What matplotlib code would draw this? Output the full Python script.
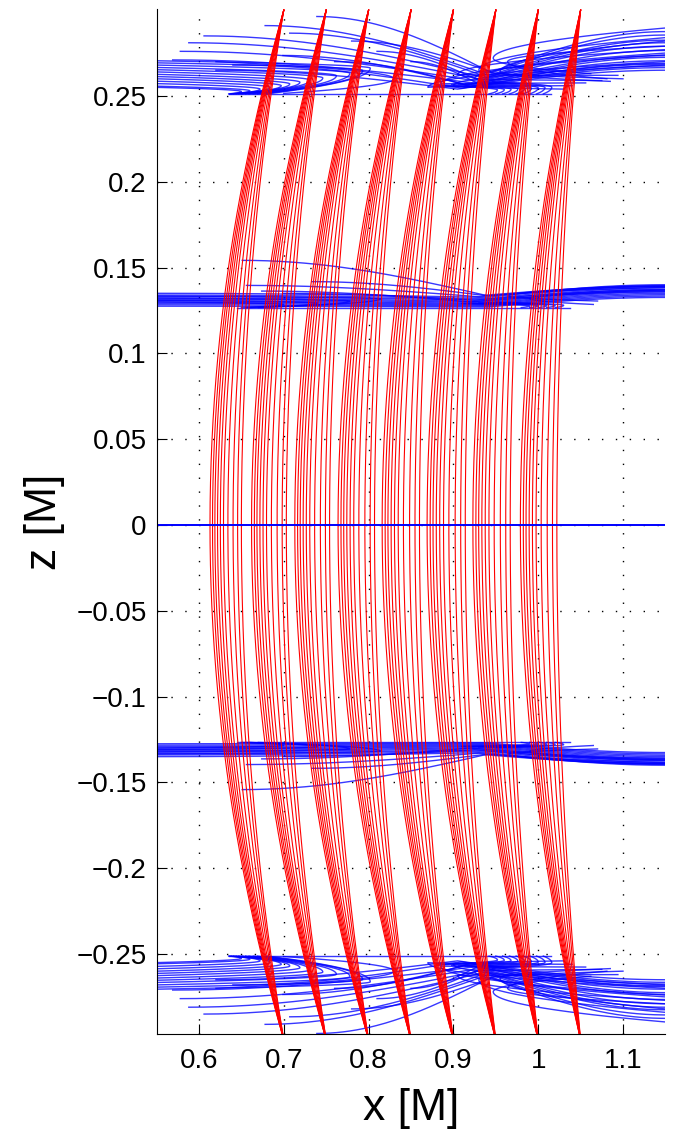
import numpy as np
import matplotlib
matplotlib.use('Agg')
from matplotlib import pyplot as plt

plt.rcParams['font.family'] = ['Liberation Sans', 'DejaVu Sans']

# red bundles: end point x at z=+-0.3, depth range of the bulge at z=0
bundle_end = [0.70, 0.75, 0.80, 0.85, 0.90, 0.95, 1.00, 1.05]
depth_min = [0.050, 0.047, 0.046, 0.043, 0.040, 0.036, 0.033, 0.028]
depth_max = [0.087, 0.088, 0.087, 0.086, 0.084, 0.081, 0.077, 0.071]
line_frac = [0.0, 0.08, 0.155, 0.24, 0.33, 0.43, 0.57, 0.735, 0.88, 1.0]
z_end = 0.3

# blue, outer group (upper copy, mirrored below)
outer_base = [(0.635, 0.2512), (1.015, 0.2512)]
# hooks: tip x, tip z, upper end x, upper end z, lower end x, lower end z
outer_hooks_left = [
    (0.650, 0.2526, 0.55, 0.2550, 0.635, 0.2512),
    (0.660, 0.2530, 0.55, 0.2557, 0.636, 0.2512),
    (0.672, 0.2540, 0.55, 0.2572, 0.638, 0.2512),
    (0.684, 0.2550, 0.55, 0.2586, 0.641, 0.2512),
    (0.697, 0.2560, 0.55, 0.2600, 0.644, 0.2512),
    (0.707, 0.2570, 0.55, 0.2613, 0.647, 0.2512),
    (0.719, 0.2580, 0.55, 0.2626, 0.651, 0.2512),
    (0.731, 0.2592, 0.55, 0.2640, 0.655, 0.2512),
    (0.746, 0.2605, 0.55, 0.2653, 0.659, 0.2512),
    (0.762, 0.2618, 0.55, 0.2666, 0.664, 0.2512),
    (0.778, 0.2632, 0.55, 0.2680, 0.669, 0.2512),
    (0.793, 0.2648, 0.55, 0.2693, 0.674, 0.2512),
    (0.802, 0.2662, 0.55, 0.2705, 0.680, 0.2512),
    (0.830, 0.2600, 0.62, 0.2700, 0.700, 0.2515),
]
outer_hooks_right = [
    (0.947, 0.2720, 1.15, 0.2896, 1.062, 0.2630),
    (0.964, 0.2700, 1.15, 0.2790, 1.081, 0.2600),
    (0.905, 0.2625, 1.15, 0.2770, 1.094, 0.2620),
    (0.925, 0.2600, 1.15, 0.2750, 1.075, 0.2590),
    (0.885, 0.2570, 1.15, 0.2740, 1.056, 0.2576),
    (0.870, 0.2550, 1.15, 0.2700, 1.040, 0.2560),
    (0.900, 0.2560, 1.15, 0.2680, 1.030, 0.2540),
    (0.930, 0.2650, 1.15, 0.2840, 1.100, 0.2600),
    (0.955, 0.2640, 1.15, 0.2820, 1.085, 0.2585),
]
outer_small_tips = [0.952, 0.960, 0.968, 0.976, 0.984, 0.992, 1.000, 1.008, 1.016]
outer_small_zc = [0.2535, 0.2537, 0.2539, 0.2541, 0.2543, 0.2545, 0.2547, 0.2549, 0.2551]
outer_small_zu = [0.2560, 0.2563, 0.2566, 0.2569, 0.2572, 0.2575, 0.2578, 0.2581, 0.2584]
# through lines: start, crossing point, right end
outer_through = [
    (0.569, 0.2710, 0.925, 0.2575, 1.15, 0.2705),
    (0.578, 0.2760, 0.930, 0.2585, 1.15, 0.2735),
    (0.588, 0.2810, 0.935, 0.2595, 1.15, 0.2765),
    (0.606, 0.2850, 0.938, 0.2605, 1.15, 0.2790),
    (0.678, 0.2910, 0.942, 0.2620, 1.15, 0.2825),
    (0.739, 0.2963, 0.945, 0.2635, 1.15, 0.2855),
    (0.699, 0.2736, 0.915, 0.2565, 1.15, 0.2685),
    (0.707, 0.2866, 0.940, 0.2610, 1.15, 0.2810),
    (0.810, 0.2760, 0.935, 0.2580, 1.15, 0.2725),
    (0.760, 0.2700, 0.920, 0.2555, 1.15, 0.2665),
    (0.640, 0.2680, 0.910, 0.2545, 1.15, 0.2675),
    (0.620, 0.2650, 0.905, 0.2540, 1.15, 0.2650),
    (0.780, 0.2820, 0.945, 0.2640, 1.15, 0.2875),
    (0.850, 0.2700, 0.930, 0.2570, 1.15, 0.2690),
]

# blue, middle group
mid_base = [(0.645, 0.1267), (1.037, 0.1267)]
mid_band_left = [0.1275, 0.1283, 0.1291, 0.1299, 0.1307, 0.1315, 0.1323, 0.1331, 0.1340, 0.1350]
mid_band_cross = [0.1270, 0.1275, 0.1280, 0.1285, 0.1290, 0.1296, 0.1302, 0.1310, 0.1318, 0.1326]
mid_band_right = [0.1326, 0.1334, 0.1342, 0.1350, 0.1358, 0.1366, 0.1374, 0.1382, 0.1391, 0.1400]
mid_cross_x = 0.94
mid_through = [
    (0.651, 0.1542, 0.941, 0.1335, 1.15, 0.1395),
    (0.656, 0.1396, 0.930, 0.1330, 1.15, 0.1388),
    (0.733, 0.1418, 0.935, 0.1338, 1.15, 0.1392),
    (0.674, 0.1363, 0.920, 0.1300, 1.15, 0.1360),
    (0.700, 0.1350, 0.925, 0.1310, 1.15, 0.1370),
]
mid_hooks_left = [
    (0.700, 0.1285, 0.55, 0.1300, 0.650, 0.1267),
    (0.740, 0.1292, 0.55, 0.1310, 0.655, 0.1267),
    (0.778, 0.1305, 0.55, 0.1322, 0.660, 0.1267),
    (0.814, 0.1318, 0.55, 0.1335, 0.670, 0.1267),
]
mid_hooks_right = [
    (0.965, 0.1335, 1.15, 0.1385, 1.070, 0.1305),
    (0.990, 0.1320, 1.15, 0.1370, 1.065, 0.1285),
]
mid_small_tips = [0.990, 1.000, 1.010, 1.020, 1.030]
mid_small_zc = [0.1276, 0.1277, 0.1278, 0.1279, 0.1280]
mid_small_zu = [0.1290, 0.1292, 0.1294, 0.1296, 0.1298]

xticks = [0.6, 0.7, 0.8, 0.9, 1.0, 1.1]
xticklabels = ['0.6', '0.7', '0.8', '0.9', '1', '1.1']
yticks = [-0.25, -0.2, -0.15, -0.1, -0.05, 0, 0.05, 0.1, 0.15, 0.2, 0.25]
yticklabels = ['\u22120.25', '\u22120.2', '\u22120.15', '\u22120.1', '\u22120.05', '0',
               '0.05', '0.1', '0.15', '0.2', '0.25']


def hook(xt, zc, xu, zu, xl, zl):
    zs_u = np.linspace(zc, zu, 60)
    xs_u = xt + (xu - xt) * ((zs_u - zc) / (zu - zc)) ** 2
    zs_l = np.linspace(zc, zl, 60)
    xs_l = xt + (xl - xt) * ((zs_l - zc) / (zl - zc)) ** 2
    return np.concatenate([xs_l[::-1], xs_u]), np.concatenate([zs_l[::-1], zs_u])


def through(x0, z0, x1, z1, x2, z2):
    s = np.linspace(0, 1, 80)
    xa = x0 + (x1 - x0) * s
    za = z0 + (z1 - z0) * (1 - np.cos(np.pi / 2 * s))
    xb = x1 + (x2 - x1) * s
    zb = z1 + (z2 - z1) * np.sin(np.pi / 2 * s)
    return np.concatenate([xa, xb]), np.concatenate([za, zb])


fig = plt.figure(figsize=(6.84, 11.33), dpi=100)
ax = fig.add_axes([0.2289, 0.0874, 0.7439, 0.9047])

blue = dict(color='b', lw=1.0, alpha=0.78)

for sgn in (1, -1):
    curves = []
    for p in outer_hooks_left + outer_hooks_right + mid_hooks_left + mid_hooks_right:
        curves.append(hook(*p))
    for p in outer_through + mid_through:
        curves.append(through(*p))
    for xt, zc, zu in zip(outer_small_tips, outer_small_zc, outer_small_zu):
        curves.append(hook(xt, zc, xt - 0.07, zu, xt - 0.01, 0.2512))
    for xt, zc, zu in zip(mid_small_tips, mid_small_zc, mid_small_zu):
        curves.append(hook(xt, zc, xt - 0.08, zu, xt - 0.01, 0.1267))
    for zl, zm, zr in zip(mid_band_left, mid_band_cross, mid_band_right):
        curves.append(through(0.55, zl, mid_cross_x, zm, 1.15, zr))
    for base in (outer_base, mid_base):
        curves.append(([base[0][0], base[1][0]], [base[0][1], base[1][1]]))
    for cx, cz in curves:
        ax.plot(cx, sgn * np.asarray(cz), **blue)

# red bundles
zz = np.linspace(-z_end, z_end, 300)
for xe, dmn, dmx in zip(bundle_end, depth_min, depth_max):
    for f in line_frac:
        d = dmx - f * (dmx - dmn)
        ax.plot(xe - d * (1 - (zz / z_end) ** 2), zz, color='r', lw=0.8)

ax.plot([0.55, 1.15], [0, 0], color='b', lw=1.4)

ax.set_xlim(0.55, 1.15)
ax.set_ylim(-0.2966, 0.3007)
ax.set_xticks(xticks)
ax.set_xticklabels(xticklabels)
ax.set_yticks(yticks)
ax.set_yticklabels(yticklabels)
ax.tick_params(direction='in', length=7, width=0.8, labelsize=20)
ax.tick_params(axis='y', pad=7)
ax.tick_params(axis='x', pad=10)
ax.spines['top'].set_visible(False)
ax.spines['right'].set_visible(False)
ax.grid(True, linestyle=(0, (1, 9)), color='k', lw=1.0)
ax.set_axisbelow(True)
ax.set_xlabel('x [M]', fontsize=32, labelpad=10)
ax.set_ylabel('z [M]', fontsize=32, labelpad=8)

fig.savefig('out.png', dpi=100)
